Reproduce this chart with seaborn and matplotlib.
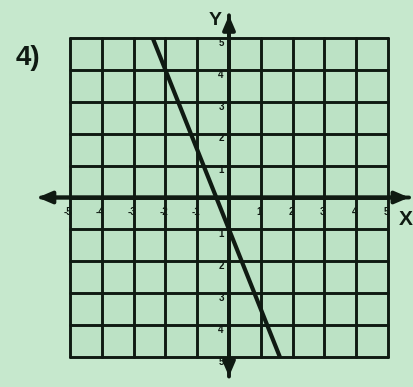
import matplotlib
matplotlib.use("Agg")
import matplotlib.pyplot as plt
import seaborn as sns
import pandas as pd

sns.set_theme(style="white")
plt.rcParams['font.family'] = ['Liberation Sans', 'DejaVu Sans']

# data
line_x = [-2.4, 1.6]
line_y = [5, -5]
x_ticks = [-5, -4, -3, -2, -1, 1, 2, 3, 4, 5]
x_labels = ["-5", "-4", "-3", "-2", "-1", "1", "2", "3", "4", "5"]
y_ticks = [5, 4, 3, 2, 1, -1, -2, -3, -4, -5]
y_labels = ["5", "4", "3", "2", "1", "1", "2", "3", "4", "5"]
problem_label = "4)"

bg = "#c6e8cd"
ink = "#0f1a12"

fig = plt.figure(figsize=(4.14, 3.87), dpi=100, facecolor=bg)
ax = fig.add_axes([70/414, 1-357/387, 318/414, 319/387])
ax.set_facecolor("#bce2c5")
ax.set_xlim(-5, 5)
ax.set_ylim(-5, 5)

# grid
for v in range(-5, 6):
    ax.axvline(v, color=ink, lw=2.1, zorder=1, clip_on=False)
    ax.axhline(v, color=ink, lw=2.1, zorder=1, clip_on=False)
for s in ax.spines.values():
    s.set_visible(False)
ax.set_xticks([])
ax.set_yticks([])

# axes with arrows
arrow = dict(arrowstyle="-|>,head_length=0.7,head_width=0.3", color=ink, lw=2.8)
ax.annotate("", xy=(-6.1, 0), xytext=(5.75, 0), arrowprops=arrow,
            annotation_clip=False, zorder=3)
ax.annotate("", xy=(5.75, 0), xytext=(-6.0, 0), arrowprops=arrow,
            annotation_clip=False, zorder=3)
ax.annotate("", xy=(0, 5.8), xytext=(0, -5.7), arrowprops=arrow,
            annotation_clip=False, zorder=3)
ax.annotate("", xy=(0, -5.7), xytext=(0, 5.8), arrowprops=arrow,
            annotation_clip=False, zorder=3)

# line
df = pd.DataFrame({"x": line_x, "y": line_y})
sns.lineplot(data=df, x="x", y="y", ax=ax, color=ink, lw=3.0, zorder=4)
ax.set_xlabel("")
ax.set_ylabel("")

# tick labels
for t, lab in zip(x_ticks, x_labels):
    ax.text(t - 0.05, -0.45, lab, ha="center", va="center", fontsize=7,
            fontweight="bold", color=ink, zorder=5)
for t, lab in zip(y_ticks, y_labels):
    ax.text(-0.25, t - 0.15, lab, ha="center", va="center", fontsize=7,
            fontweight="bold", color=ink, zorder=5)

ax.text(5.55, -0.7, "X", ha="center", va="center", fontsize=15, fontweight="bold",
        color=ink, clip_on=False)
ax.text(-0.45, 5.55, "Y", ha="center", va="center", fontsize=14, fontweight="bold",
        color=ink, clip_on=False)
fig.text(28/414, 1-58/387, problem_label, ha="center", va="center", fontsize=20,
         fontweight="bold", color=ink)

fig.savefig("out.png", dpi=100, facecolor=bg)
